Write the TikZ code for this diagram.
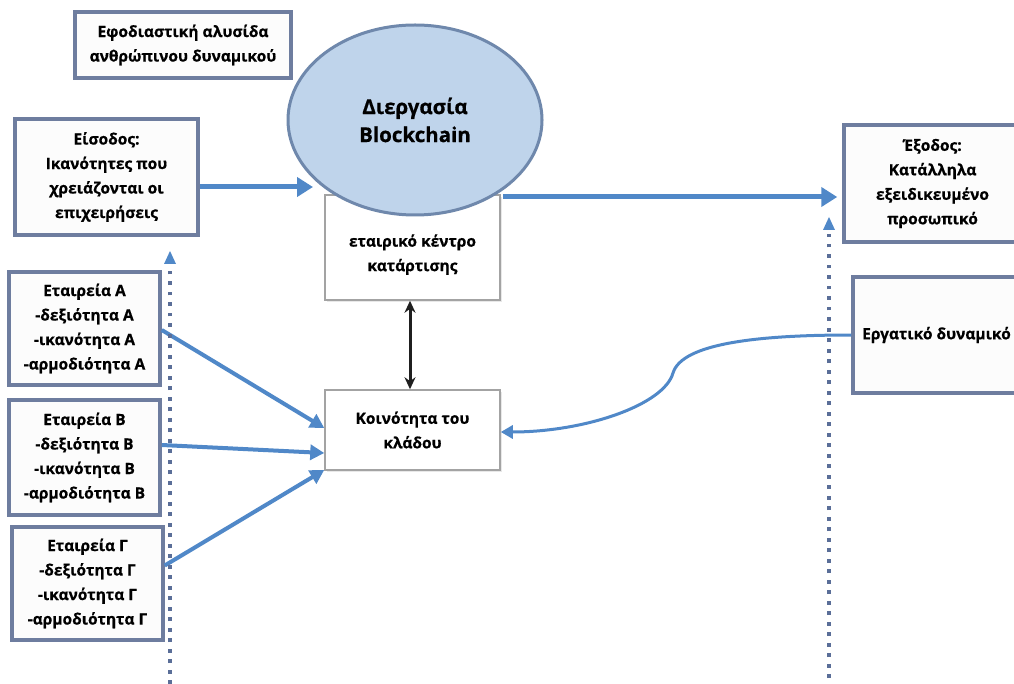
\documentclass[tikz,border=0pt]{standalone}
\usepackage{fontspec}
\setmainfont{Open Sans}[BoldFeatures={FakeBold=0.6}]
\usetikzlibrary{arrows.meta,shapes.geometric,shadows}
\definecolor{boxline}{HTML}{6E7D9F}
\definecolor{thinline}{HTML}{A3A3A3}
\definecolor{flow}{HTML}{5088C8}
\definecolor{ellfill}{HTML}{BFD4EB}
\definecolor{ellline}{HTML}{6F88AC}
\definecolor{dotcol}{HTML}{5A6E98}
\definecolor{paper}{HTML}{FCFCFC}

\begin{document}
\begin{tikzpicture}[x=1pt,y=-1pt,
  txt/.style={font=\bfseries\fontsize{15.5}{24.5}\selectfont, align=center, text=black},
  heavybox/.style={draw=boxline, line width=3.5pt, fill=paper, txt, inner sep=0pt},
  lightbox/.style={draw=thinline, line width=1.5pt, fill=white, txt, inner sep=0pt,
    drop shadow={shadow xshift=2pt, shadow yshift=-2pt, opacity=0.18}},
  process/.style={ellipse, draw=ellline, line width=3pt, fill=ellfill, inner sep=0pt,
    minimum width=254pt, minimum height=190pt, align=center,
    font=\bfseries\fontsize{20.5}{28}\selectfont},
  mainflow/.style={draw=flow, line width=5pt, -{Triangle[length=16pt,width=19pt]}},
  feed/.style={draw=flow, line width=4pt, -{Triangle[length=14pt,width=15pt]}},
  curveflow/.style={draw=flow, line width=3pt, -{Triangle[length=12pt,width=13pt]}},
  twoway/.style={draw=black!88, line width=3pt,
    {Stealth[length=12pt,width=11pt]}-{Stealth[length=12pt,width=11pt]}},
  dotline/.style={draw=dotcol, line width=3.6pt, dash pattern=on 3.6pt off 6.9pt},
  dothead/.style={draw=none, fill=flow}
]
% canvas
\fill[white] (0,0) rectangle (1014,684);
\useasboundingbox (0,0) rectangle (1014,684);

% heading
\node[heavybox, minimum width=216pt, minimum height=66pt] (head) at (183,45)
  {Εφοδιαστική αλυσίδα\\ανθρώπινου δυναμικού};

% input / output
\node[heavybox, minimum width=183pt, minimum height=116pt] (inp) at (106.5,177)
  {Είσοδος:\\Ικανότητες που\\χρειάζονται οι\\επιχειρήσεις};
\node[heavybox, minimum width=182pt, minimum height=117pt] (outp) at (935,183.5)
  {\hspace*{-5pt}Έξοδος:\\\hspace*{-5pt}Κατάλληλα\\\hspace*{-5pt}εξειδικευμένο\\\hspace*{-5pt}προσωπικό};

% workforce box (runs past the right edge)
\node[heavybox, minimum width=180pt, minimum height=116pt] (wrk) at (943,335) {};
\node[txt, anchor=west, inner sep=0pt] (wrktxt) at (862,335) {Εργατικό δυναμικό};

% companies
\node[heavybox, minimum width=151pt, minimum height=113pt] (coA) at (84.5,328.5)
  {Εταιρεία Α\\-δεξιότητα Α\\-ικανότητα Α\\-αρμοδιότητα Α};
\node[heavybox, minimum width=151pt, minimum height=115pt] (coB) at (84.5,457.5)
  {Εταιρεία Β\\-δεξιότητα Β\\-ικανότητα Β\\-αρμοδιότητα Β};
\node[heavybox, minimum width=151pt, minimum height=113pt] (coG) at (87.5,583.5)
  {Εταιρεία Γ\\-δεξιότητα Γ\\-ικανότητα Γ\\-αρμοδιότητα Γ};

% training centre and industry community
\node[lightbox, minimum width=175pt, minimum height=105pt] (ken) at (412.5,247.5)
  {\\[2pt]εταιρικό κέντρο\\κατάρτισης};
\node[lightbox, minimum width=175pt, minimum height=80pt] (com) at (412.5,430)
  {Κοινότητα του\\κλάδου};

% blockchain process
\node[process] (blk) at (415,120) {Διεργασία\\Blockchain};

% free ends
\coordinate (inTip) at (313,187);
\coordinate (blkOut) at (503,197);
\coordinate (leftFoot) at (170,684);
\coordinate (leftTop) at (170,268);
\coordinate (leftHead) at (170,251);
\coordinate (rightFoot) at (829,678);
\coordinate (rightTop) at (829,234);
\coordinate (rightHead) at (829,217);

% main flow
\draw[mainflow] ([yshift=-10pt]inp.east) -- (inTip);
\draw[mainflow, shorten >=5pt] (blkOut) -- ([yshift=-13.5pt]outp.west);

% companies feed the community
\draw[feed] ([yshift=-1.5pt]coA.east) -- ([yshift=2pt]com.west);
\draw[feed] ([yshift=12.5pt]coB.east) -- ([yshift=-23pt]com.west);
\draw[feed] ([yshift=18pt]coG.east) -- ([yshift=-40pt]com.west);

% training centre <-> community
\draw[twoway] ([xshift=-2.5pt]ken.south) -- ([xshift=-2.5pt]com.north);

% workforce to community
\draw[curveflow] (wrk.west) .. controls (760,335) and (682,343) .. (673,373)
  .. controls (664,405) and (585,432) .. ([yshift=-2pt]com.east);

% dotted guides with small solid heads
\draw[dotline] (leftFoot) -- (leftTop);
\fill[dothead] (leftHead) -- ++(-6,13) -- ++(12,0) -- cycle;
\draw[dotline] (rightFoot) -- (rightTop);
\fill[dothead] (rightHead) -- ++(-6,13) -- ++(12,0) -- cycle;
\end{tikzpicture}
\end{document}
